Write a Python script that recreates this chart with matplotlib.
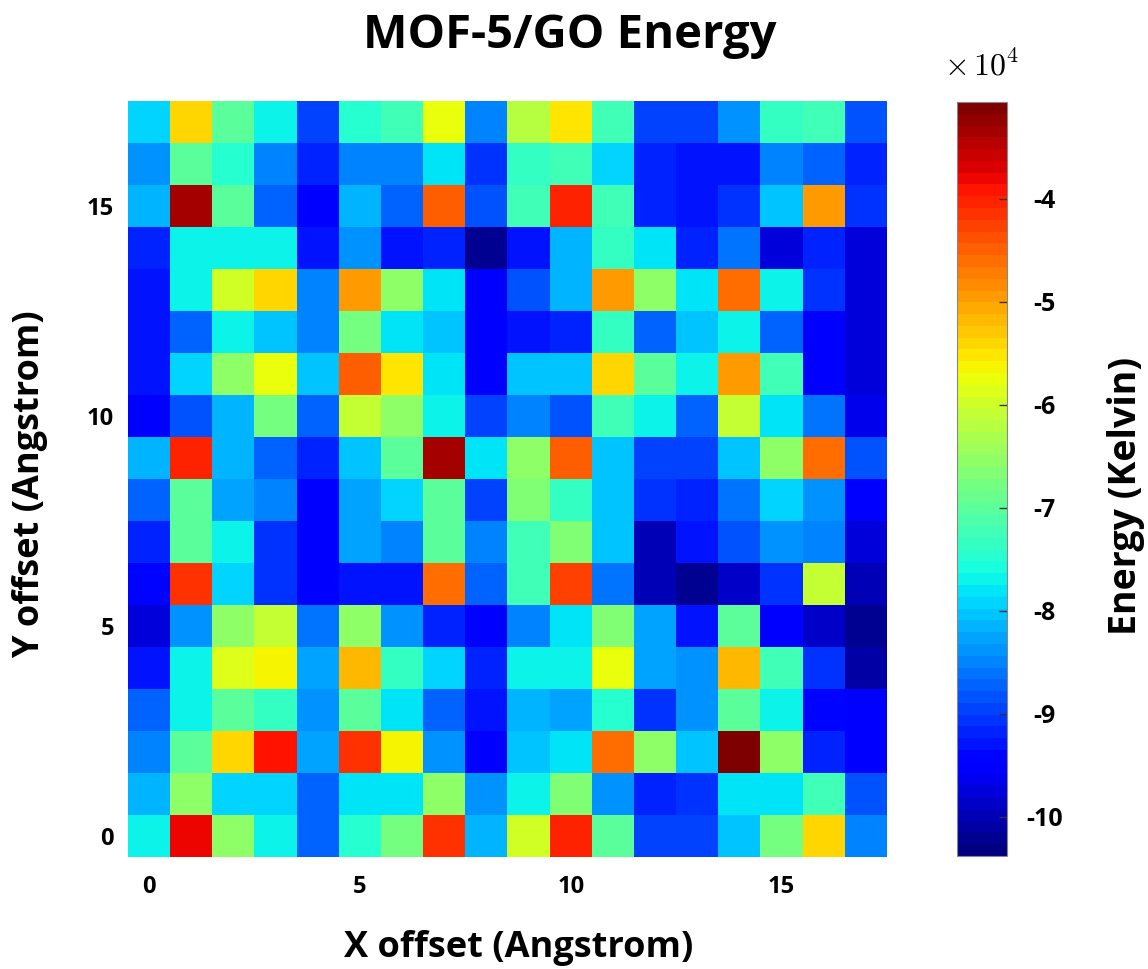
import numpy as np
import matplotlib
matplotlib.use("Agg")
from matplotlib import pyplot as plt

plt.rcParams['font.family'] = ['Open Sans', 'DejaVu Sans']
plt.rcParams['mathtext.fontset'] = 'cm'

# energy in units of 1e4 Kelvin, rows listed from top (y=17) to bottom (y=0)
row17 = [-7.9, -5.4, -6.95, -7.7, -8.9, -7.5, -7.25, -5.8, -8.55, -6.15, -5.55, -7.25, -8.9, -8.95, -8.4, -7.3, -7.25, -8.8]
row16 = [-8.4, -6.95, -7.45, -8.5, -9.15, -8.5, -8.5, -7.75, -9.05, -7.3, -7.25, -7.9, -9.15, -9.25, -9.35, -8.5, -8.7, -9.15]
row15 = [-8.2, -3.4, -6.95, -8.7, -9.47, -8.2, -8.7, -4.45, -8.8, -7.25, -4.05, -7.25, -9.15, -9.35, -9.05, -8.0, -4.95, -9.05]
row14 = [-9.15, -7.7, -7.7, -7.64, -9.35, -8.4, -9.25, -9.15, -10.25, -9.3, -8.15, -7.3, -7.8, -9.15, -8.65, -9.7, -9.15, -9.75]
row13 = [-9.25, -7.65, -6.0, -5.4, -8.55, -4.9, -6.6, -7.8, -9.55, -8.8, -8.15, -4.9, -6.6, -7.8, -4.65, -7.64, -9.05, -9.8]
row12 = [-9.3, -8.7, -7.7, -8.05, -8.5, -6.8, -7.8, -8.05, -9.55, -9.25, -9.15, -7.3, -8.75, -8.0, -7.64, -8.7, -9.47, -9.8]
row11 = [-9.25, -7.95, -6.5, -5.7, -8.05, -4.5, -5.55, -7.8, -9.55, -8.05, -8.05, -5.4, -6.95, -7.7, -4.9, -7.25, -9.55, -9.75]
row10 = [-9.5, -8.8, -8.2, -6.8, -8.7, -6.1, -6.5, -7.7, -8.9, -8.55, -8.8, -7.25, -7.7, -8.75, -6.1, -7.8, -8.65, -9.6]
row9 = [-8.15, -4.05, -8.15, -8.7, -9.15, -8.0, -6.95, -3.4, -7.8, -6.5, -4.45, -8.0, -8.9, -8.9, -8.05, -6.5, -4.65, -8.8]
row8 = [-8.7, -7.05, -8.3, -8.55, -9.47, -8.3, -7.9, -7.05, -8.9, -6.72, -7.3, -8.0, -9.05, -9.15, -8.65, -7.9, -8.4, -9.47]
row7 = [-9.15, -7.05, -7.7, -9.05, -9.55, -8.3, -8.55, -7.05, -8.55, -7.25, -6.72, -8.0, -10.0, -9.35, -8.8, -8.4, -8.5, -9.7]
row6 = [-9.4, -4.2, -7.9, -9.05, -9.55, -9.25, -9.25, -4.65, -8.7, -7.25, -4.3, -8.65, -10.0, -10.2, -9.9, -9.05, -6.1, -10.0]
row5 = [-9.8, -8.4, -6.6, -6.1, -8.65, -6.6, -8.4, -9.15, -9.5, -8.5, -7.8, -6.72, -8.3, -9.35, -6.95, -9.55, -9.9, -10.25]
row4 = [-9.25, -7.64, -5.85, -5.65, -8.3, -5.15, -7.3, -7.9, -9.15, -7.7, -7.7, -5.8, -8.3, -8.4, -5.15, -7.25, -9.05, -10.05]
row3 = [-8.7, -7.64, -6.95, -7.3, -8.4, -6.95, -7.8, -8.7, -9.35, -8.15, -8.3, -7.5, -9.05, -8.4, -6.95, -7.7, -9.4, -9.55]
row2 = [-8.55, -7.05, -5.4, -3.97, -8.3, -4.2, -5.65, -8.4, -9.47, -8.0, -7.8, -4.65, -6.6, -8.05, -3.1, -6.55, -9.15, -9.47]
row1 = [-8.2, -6.5, -7.9, -7.95, -8.75, -7.8, -7.75, -6.6, -8.4, -7.64, -6.72, -8.4, -9.15, -9.05, -7.8, -7.8, -7.25, -8.8]
row0 = [-7.7, -3.8, -6.6, -7.64, -8.75, -7.45, -6.8, -4.2, -8.15, -6.0, -4.05, -7.05, -8.9, -8.9, -8.05, -6.8, -5.45, -8.55]

energy = np.array([row17, row16, row15, row14, row13, row12, row11, row10, row9,
                   row8, row7, row6, row5, row4, row3, row2, row1, row0])
vmin, vmax = -10.38, -3.06
xticks = [0, 5, 10, 15]
yticks = [0, 5, 10, 15]
cbar_ticks = [-10, -9, -8, -7, -6, -5, -4]

W, H = 1148, 969
fig = plt.figure(figsize=(W / 100, H / 100), dpi=100)
ax = fig.add_axes([128 / W, 112 / H, 759 / W, 756 / H])
n = energy.shape[0]
im = ax.imshow(energy, cmap=plt.get_cmap('jet', 64), vmin=vmin, vmax=vmax,
               extent=(-0.5, n - 0.5, -0.5, n - 0.5), origin='upper',
               aspect='auto', interpolation='nearest')
ax.set_xticks(xticks)
ax.set_yticks(yticks)
ax.set_xticklabels([str(t) for t in xticks], fontsize=17, fontweight='bold')
ax.set_yticklabels([str(t) for t in yticks], fontsize=17, fontweight='bold')
ax.tick_params(length=0)
ax.tick_params(axis='x', pad=13)
ax.tick_params(axis='y', pad=10)
for s in ax.spines.values():
    s.set_visible(False)

fig.text(570 / W, 1 - 48 / H, 'MOF-5/GO Energy', fontsize=34, fontweight='bold',
         ha='center', va='baseline')
fig.text(519 / W, 1 - 957 / H, 'X offset (Angstrom)', fontsize=26, fontweight='bold',
         ha='center', va='baseline')
fig.text(30 / W, 1 - 484 / H, 'Y offset (Angstrom)', fontsize=26, fontweight='bold',
         ha='center', va='center', rotation=90)
fig.text(1126 / W, 1 - 496 / H, 'Energy (Kelvin)', fontsize=27, fontweight='bold',
         ha='center', va='center', rotation=90)

cax = fig.add_axes([957 / W, 113 / H, 50 / W, 754 / H])
cb = fig.colorbar(im, cax=cax)
cb.set_ticks(cbar_ticks)
cb.set_ticklabels(['-%d' % abs(t) for t in cbar_ticks])
cax.tick_params(direction='in', length=6, width=1, color='#333333', pad=27, labelsize=18)
for lab in cax.get_yticklabels():
    lab.set_fontweight('bold')
    lab.set_horizontalalignment('center')
cb.outline.set_edgecolor('#888888')
cax.text(0.5, 1.036, r'$\times\,10^{4}$', transform=cax.transAxes, ha='center',
         va='baseline', fontsize=23)

fig.savefig('out.png', dpi=100)
